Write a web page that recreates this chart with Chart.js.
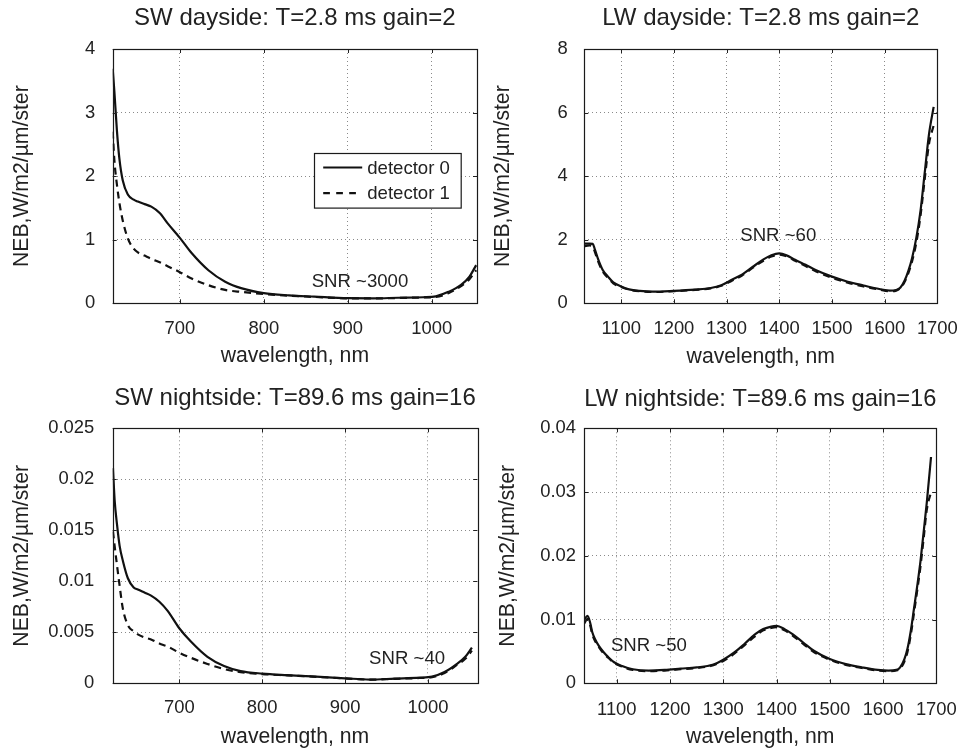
<!DOCTYPE html>
<html><head><meta charset="utf-8">
<script src="https://cdn.jsdelivr.net/npm/chart.js@4.4.1/dist/chart.umd.min.js"></script>
<style>
html,body{margin:0;padding:0;background:#fff;}
#wrap{position:relative;width:972px;height:753px;background:#fff;}
.cell{position:absolute;}
canvas{display:block;}
</style></head><body>
<div id="wrap">
<div class="cell" style="left:0;top:0;width:486px;height:376px"><canvas id="c0" width="486" height="376"></canvas></div>
<div class="cell" style="left:486px;top:0;width:486px;height:376px"><canvas id="c1" width="486" height="376"></canvas></div>
<div class="cell" style="left:0;top:376px;width:486px;height:377px"><canvas id="c2" width="486" height="377"></canvas></div>
<div class="cell" style="left:486px;top:376px;width:486px;height:377px"><canvas id="c3" width="486" height="377"></canvas></div>
</div>
<script>
// ---------------- DATA ----------------
const seriesNames = ['detector 0', 'detector 1'];
const panelTitles = [
  'SW dayside: T=2.8 ms gain=2',
  'LW dayside: T=2.8 ms gain=2',
  'SW nightside: T=89.6 ms gain=16',
  'LW nightside: T=89.6 ms gain=16'
];
const xAxisLabel = 'wavelength, nm';
const yAxisLabel = 'NEB,W/m2/\u00b5m/ster';

// SW wavelengths (nm)
const swX = [620, 622, 625, 628, 632, 638, 645, 650, 658, 666, 676, 686, 700, 714, 734, 754, 774, 800, 830, 860, 900, 930, 960, 990, 1005, 1020, 1035, 1045, 1053];
// SW dayside
const swDayDet0 = [3.69, 3.33, 2.72, 2.27, 1.93, 1.71, 1.63, 1.60, 1.56, 1.52, 1.42, 1.25, 1.03, 0.79, 0.52, 0.34, 0.235, 0.16, 0.125, 0.105, 0.08, 0.078, 0.087, 0.095, 0.11, 0.18, 0.29, 0.42, 0.60];
const swDayDet1 = [2.70, 2.25, 1.87, 1.58, 1.30, 1.02, 0.86, 0.80, 0.75, 0.70, 0.645, 0.58, 0.49, 0.39, 0.285, 0.21, 0.178, 0.145, 0.12, 0.10, 0.078, 0.076, 0.084, 0.092, 0.10, 0.16, 0.27, 0.38, 0.52];
// SW nightside
const swNightDet0 = [0.0211, 0.0180, 0.0155, 0.0135, 0.0120, 0.0103, 0.0094, 0.0092, 0.0089, 0.0086, 0.0080, 0.0071, 0.0054, 0.0041, 0.0026, 0.0017, 0.0012, 0.00095, 0.0008, 0.00068, 0.00049, 0.00037, 0.00046, 0.00055, 0.00065, 0.0011, 0.0019, 0.0026, 0.0035];
const swNightDet1 = [0.0149, 0.0135, 0.0115, 0.0096, 0.0073, 0.0057, 0.0051, 0.0048, 0.0045, 0.0043, 0.0039, 0.0036, 0.0030, 0.0025, 0.0019, 0.0014, 0.0011, 0.0009, 0.00078, 0.00066, 0.00048, 0.00036, 0.00044, 0.00052, 0.0006, 0.0010, 0.0018, 0.0024, 0.0032];

// LW dayside
const lwDayX = [1030, 1040, 1046, 1050, 1056, 1065, 1075, 1085, 1100, 1115, 1135, 1160, 1200, 1240, 1270, 1290, 1310, 1330, 1350, 1370, 1385, 1400, 1415, 1430, 1450, 1470, 1500, 1530, 1560, 1590, 1610, 1622, 1630, 1638, 1645, 1652, 1660, 1668, 1676, 1684, 1693];
const lwDayDet0 = [1.88, 1.88, 1.87, 1.70, 1.40, 1.05, 0.84, 0.66, 0.53, 0.44, 0.39, 0.365, 0.39, 0.43, 0.48, 0.57, 0.74, 0.91, 1.15, 1.38, 1.51, 1.57, 1.50, 1.37, 1.21, 1.04, 0.84, 0.68, 0.56, 0.45, 0.40, 0.42, 0.50, 0.72, 1.02, 1.42, 2.05, 2.90, 4.10, 5.30, 6.18];
const lwDayDet1 = [1.80, 1.82, 1.78, 1.62, 1.33, 1.00, 0.80, 0.63, 0.51, 0.43, 0.38, 0.355, 0.38, 0.42, 0.47, 0.55, 0.71, 0.88, 1.12, 1.34, 1.47, 1.53, 1.47, 1.34, 1.17, 1.00, 0.80, 0.65, 0.53, 0.43, 0.38, 0.40, 0.48, 0.68, 0.95, 1.32, 1.90, 2.75, 3.90, 5.00, 5.60];

// LW nightside
const lwNightX = [1039, 1045, 1050, 1054, 1060, 1066, 1075, 1084, 1095, 1110, 1130, 1160, 1190, 1220, 1250, 1280, 1300, 1320, 1340, 1360, 1375, 1390, 1400, 1415, 1430, 1450, 1470, 1500, 1530, 1560, 1590, 1610, 1625, 1632, 1640, 1646, 1652, 1658, 1664, 1670, 1676, 1682, 1690];
const lwNightDet0 = [0.0100, 0.0106, 0.0095, 0.0080, 0.0068, 0.0059, 0.0049, 0.0041, 0.0033, 0.0027, 0.0022, 0.0020, 0.0021, 0.0023, 0.0025, 0.0029, 0.0037, 0.0048, 0.0062, 0.0077, 0.0085, 0.0089, 0.0090, 0.0085, 0.0077, 0.0064, 0.0051, 0.0038, 0.0030, 0.0025, 0.0021, 0.0020, 0.0021, 0.0025, 0.0038, 0.0055, 0.0082, 0.0117, 0.0152, 0.0190, 0.0236, 0.0283, 0.0355];
const lwNightDet1 = [0.0094, 0.0101, 0.0091, 0.0077, 0.0065, 0.0057, 0.0047, 0.0040, 0.0032, 0.0026, 0.0021, 0.0019, 0.0020, 0.0022, 0.0024, 0.0028, 0.0035, 0.0046, 0.0060, 0.0074, 0.0083, 0.0087, 0.0088, 0.0083, 0.0075, 0.0062, 0.0049, 0.0037, 0.0029, 0.0024, 0.0020, 0.0019, 0.0020, 0.0023, 0.0034, 0.0050, 0.0076, 0.0110, 0.0145, 0.0182, 0.0226, 0.0272, 0.0300];

// Axis ranges and ticks
const swDayXRange = [620, 1054];
const swNightXRange = [619.7, 1059.5];
const lwDayXRange = [1030, 1700];
const lwNightXRange = [1039, 1700];
const swXTicks = [700, 800, 900, 1000];
const swXTickLabels = ['700', '800', '900', '1000'];
const lwXTicks = [1100, 1200, 1300, 1400, 1500, 1600, 1700];
const lwXTickLabels = ['1100', '1200', '1300', '1400', '1500', '1600', '1700'];
const swDayYTicks = [0, 1, 2, 3, 4];
const swDayYTickLabels = ['0', '1', '2', '3', '4'];
const lwDayYTicks = [0, 2, 4, 6, 8];
const lwDayYTickLabels = ['0', '2', '4', '6', '8'];
const swNightYTicks = [0, 0.005, 0.01, 0.015, 0.02, 0.025];
const swNightYTickLabels = ['0', '0.005', '0.01', '0.015', '0.02', '0.025'];
const lwNightYTicks = [0, 0.01, 0.02, 0.03, 0.04];
const lwNightYTickLabels = ['0', '0.01', '0.02', '0.03', '0.04'];

// SNR annotations (text, anchor in data coordinates)
const snrTexts = ['SNR ~3000', 'SNR ~60', 'SNR ~40', 'SNR ~50'];
const snrAnchorX = [857, 1326, 929, 1089];
const snrAnchorY = [0.34, 2.12, 0.00235, 0.00585];

// ---------------- RENDERING ----------------
Chart.defaults.font.family = '"Liberation Sans", Arial, Helvetica, sans-serif';
Chart.defaults.color = '#222';

const TXT = '#222';
const FONT = '"Liberation Sans", Arial, Helvetica, sans-serif';

function pts(xs, ys) { return xs.map((x, i) => ({ x: x, y: ys[i] })); }

const framePlugin = {
  id: 'frame',
  afterDraw(chart, args, opts) {
    const ctx = chart.ctx, a = chart.chartArea, sx = chart.scales.x, sy = chart.scales.y;
    ctx.save();
    // inward tick marks
    ctx.strokeStyle = '#222';
    ctx.lineWidth = 1;
    ctx.setLineDash([]);
    ctx.beginPath();
    const tl = 4;
    sx.ticks.forEach(t => {
      const p = Math.round(sx.getPixelForValue(t.value)) + 0.5;
      ctx.moveTo(p, a.bottom); ctx.lineTo(p, a.bottom - tl);
      ctx.moveTo(p, a.top); ctx.lineTo(p, a.top + tl);
    });
    sy.ticks.forEach(t => {
      const p = Math.round(sy.getPixelForValue(t.value)) + 0.5;
      ctx.moveTo(a.left, p); ctx.lineTo(a.left + tl, p);
      ctx.moveTo(a.right, p); ctx.lineTo(a.right - tl, p);
    });
    ctx.stroke();
    // frame box
    ctx.strokeStyle = '#1a1a1a';
    ctx.lineWidth = 1.2;
    ctx.strokeRect(Math.round(a.left) + 0.5, Math.round(a.top) + 0.5,
                   Math.round(a.right - a.left), Math.round(a.bottom - a.top));
    // SNR annotation
    if (opts.snrText) {
      ctx.fillStyle = TXT;
      ctx.font = '18.6px ' + FONT;
      ctx.textAlign = 'left';
      ctx.textBaseline = 'middle';
      ctx.fillText(opts.snrText, sx.getPixelForValue(opts.snrX), sy.getPixelForValue(opts.snrY));
    }
    // Legend
    if (opts.legend) {
      const L = opts.legend;
      const bx = Math.round(a.left + L.dx) + 0.5, by = Math.round(a.top + L.dy) + 0.5;
      ctx.fillStyle = '#fff';
      ctx.fillRect(bx, by, L.w, L.h);
      ctx.strokeStyle = '#1a1a1a';
      ctx.lineWidth = 1.2;
      ctx.strokeRect(bx, by, L.w, L.h);
      chart.data.datasets.forEach((ds, i) => {
        const ry = by + L.rows[i];
        ctx.strokeStyle = ds.borderColor;
        ctx.lineWidth = ds.borderWidth;
        ctx.setLineDash(L.dashes[i]);
        ctx.beginPath();
        ctx.moveTo(bx + L.lx0, ry); ctx.lineTo(bx + L.lx1, ry);
        ctx.stroke();
        ctx.setLineDash([]);
        ctx.fillStyle = TXT;
        ctx.font = '18.6px ' + FONT;
        ctx.textAlign = 'left';
        ctx.textBaseline = 'middle';
        ctx.fillText(ds.label, bx + L.tx, ry + 1);
      });
    }
    ctx.restore();
  }
};

const panels = [
  { id: 'c0', title: panelTitles[0], xs: swX, d0: swDayDet0, d1: swDayDet1, xr: swDayXRange,
    xt: swXTicks, xtl: swXTickLabels, yt: swDayYTicks, ytl: swDayYTickLabels, snr: 0,
    L: { left: 112.7, right: 477, top: 49, bottom: 303.3, H: 376 },
    titlePad: { top: 3.6, bottom: 16.6 }, yTitlePad: 9.4, yTickPad: 17.5, xTickPad: 14.9, xTitlePad: 7,
    legend: { dx: 201.3, dy: 103.7, w: 146.7, h: 54.6, rows: [14, 39.6], lx0: 8.7, lx1: 47.7, tx: 52.7, dashes: [[], [6.7, 6.3]] } },
  { id: 'c1', title: panelTitles[1], xs: lwDayX, d0: lwDayDet0, d1: lwDayDet1, xr: lwDayXRange,
    xt: lwXTicks, xtl: lwXTickLabels, yt: lwDayYTicks, ytl: lwDayYTickLabels, snr: 1,
    L: { left: 98.3, right: 463.3, top: 49, bottom: 303.3, H: 376 },
    titlePad: { top: 3.9, bottom: 16.3 }, yTitlePad: 4.1, yTickPad: 16.6, xTickPad: 14.2, xTitlePad: 6.4 },
  { id: 'c2', title: panelTitles[2], xs: swX, d0: swNightDet0, d1: swNightDet1, xr: swNightXRange,
    xt: swXTicks, xtl: swXTickLabels, yt: swNightYTicks, ytl: swNightYTickLabels, snr: 2,
    L: { left: 112.7, right: 477.3, top: 52.3, bottom: 307.3, H: 377 },
    titlePad: { top: 7.6, bottom: 15.9 }, yTitlePad: 9.1, yTickPad: 18.4, xTickPad: 13.6, xTitlePad: 2.8 },
  { id: 'c3', title: panelTitles[3], xs: lwNightX, d0: lwNightDet0, d1: lwNightDet1, xr: lwNightXRange,
    xt: lwXTicks, xtl: lwXTickLabels, yt: lwNightYTicks, ytl: lwNightYTickLabels, snr: 3,
    L: { left: 98.3, right: 463.3, top: 52.3, bottom: 307.3, H: 377 },
    titlePad: { top: 8.6, bottom: 14.9 }, yTitlePad: 9.1, yTickPad: 8.3, xTickPad: 15.2, xTitlePad: 3.4 }
];

panels.forEach(p => {
  const L = p.L;
  new Chart(document.getElementById(p.id), {
    type: 'line',
    data: {
      datasets: [
        { label: seriesNames[0], data: pts(p.xs, p.d0), borderColor: '#111', borderWidth: 2.2,
          pointRadius: 0, cubicInterpolationMode: 'monotone', fill: false, order: 1 },
        { label: seriesNames[1], data: pts(p.xs, p.d1), borderColor: '#111', borderWidth: 2.2,
          borderDash: [7, 5], pointRadius: 0, cubicInterpolationMode: 'monotone', fill: false, order: 2 }
      ]
    },
    options: {
      responsive: false, animation: false, devicePixelRatio: 1,
      layout: { padding: { left: 0, right: 486 - L.right, top: 0, bottom: 0 } },
      plugins: {
        legend: { display: false },
        tooltip: { enabled: false },
        title: { display: true, text: p.title, fullSize: false, color: TXT,
                 font: { size: 24, weight: 'normal', lineHeight: 1.2 }, padding: p.titlePad },
        frame: { snrText: snrTexts[p.snr], snrX: snrAnchorX[p.snr], snrY: snrAnchorY[p.snr], legend: p.legend || null }
      },
      scales: {
        x: {
          type: 'linear', min: p.xr[0], max: p.xr[1],
          afterBuildTicks: s => { s.ticks = p.xt.map(v => ({ value: v })); },
          afterFit: s => { s.height = L.H - L.bottom; },
          ticks: { callback: (v, i) => p.xtl[i], autoSkip: false, maxRotation: 0, padding: p.xTickPad,
                   color: TXT, font: { size: 18.4 } },
          grid: { color: '#8a8a8a', lineWidth: 1, drawTicks: false },
          border: { display: false, dash: [1, 3] },
          title: { display: true, text: xAxisLabel, color: TXT, font: { size: 21.2 }, padding: { top: 0, bottom: p.xTitlePad } }
        },
        y: {
          type: 'linear', min: p.yt[0], max: p.yt[p.yt.length - 1],
          afterBuildTicks: s => { s.ticks = p.yt.map(v => ({ value: v })); },
          afterFit: s => { s.width = L.left; },
          ticks: { callback: (v, i) => p.ytl[i], autoSkip: false, padding: p.yTickPad,
                   color: TXT, font: { size: 18.4 } },
          grid: { color: '#8a8a8a', lineWidth: 1, drawTicks: false },
          border: { display: false, dash: [1, 3] },
          title: { display: true, text: yAxisLabel, color: TXT, font: { size: 21.2 }, padding: { top: p.yTitlePad, bottom: 0 } }
        }
      }
    },
    plugins: [framePlugin]
  });
});
</script>
</body></html>
